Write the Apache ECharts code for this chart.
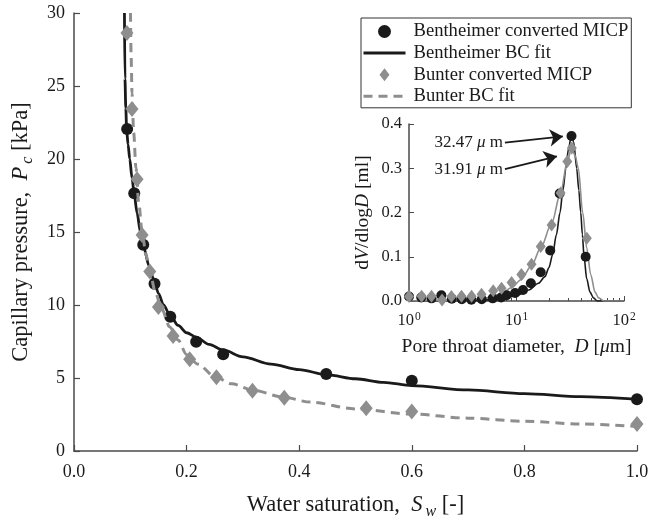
<!DOCTYPE html>
<html>
<head>
<meta charset="utf-8">
<script src="https://cdn.jsdelivr.net/npm/echarts@6/dist/echarts.min.js"></script>
<style>html,body{margin:0;padding:0;background:#fff}#c{width:650px;height:522px}</style>
</head>
<body>
<div id="c"></div>
<script>
// ---------- Main plot data ----------
const benSw = [0.0944, 0.107, 0.123, 0.143, 0.171, 0.217, 0.265, 0.448, 0.600, 1.000];
const benPc = [22.05, 17.66, 14.12, 11.45, 9.2, 7.49, 6.63, 5.28, 4.82, 3.54];
const benFitSw = [0.0896, 0.0905, 0.092, 0.0935, 0.096, 0.099, 0.103, 0.107, 0.112, 0.118, 0.125, 0.133, 0.142, 0.150, 0.159, 0.170, 0.185, 0.20, 0.217, 0.24, 0.265, 0.30, 0.35, 0.40, 0.45, 0.50, 0.55, 0.60, 0.70, 0.80, 0.90, 1.00];
const benFitPc = [30, 25.5, 23.5, 22, 21, 20, 18.7, 17.6, 16.3, 15.0, 13.8, 12.7, 11.7, 10.8, 10.0, 9.35, 8.6, 8.1, 7.8, 7.3, 6.92, 6.45, 5.95, 5.57, 5.22, 4.95, 4.7, 4.48, 4.18, 3.93, 3.72, 3.54];
const bunSw = [0.094, 0.103, 0.112, 0.121, 0.1346, 0.150, 0.176, 0.2055, 0.253, 0.317, 0.3735, 0.519, 0.600, 1.000];
const bunPc = [28.63, 23.42, 18.62, 14.8, 12.29, 9.87, 7.88, 6.28, 5.05, 4.13, 3.65, 2.93, 2.70, 1.85];
const bunFitSw = [0.1003, 0.1015, 0.103, 0.106, 0.110, 0.115, 0.121, 0.128, 0.135, 0.145, 0.155, 0.17, 0.185, 0.20, 0.22, 0.25, 0.28, 0.32, 0.37, 0.42, 0.50, 0.60, 0.70, 0.80, 0.90, 1.00];
const bunFitPc = [30, 27, 24.5, 21.8, 19.4, 17.0, 15.0, 13.4, 12.2, 10.8, 9.8, 8.5, 7.6, 6.6, 5.95, 5.1, 4.6, 4.15, 3.7, 3.35, 2.88, 2.53, 2.25, 2.04, 1.85, 1.68];

// ---------- Inset data ----------
const benD = [1.0, 1.3, 1.62, 2.0, 2.5, 3.1, 3.8, 4.75, 6.0, 7.2, 8.1, 9.7, 11.5, 13.6, 16.8, 20.6, 25.2, 32.47, 44.0];
const benV = [0.010, 0.008, 0.006, 0.013, 0.005, 0.004, 0.003, 0.004, 0.006, 0.008, 0.013, 0.018, 0.025, 0.040, 0.065, 0.114, 0.243, 0.373, 0.100];
const bunD = [1.0, 1.31, 1.62, 2.03, 2.48, 3.08, 3.82, 4.73, 6.07, 7.26, 9.0, 11.1, 13.8, 16.8, 21.2, 25.7, 29.7, 32.7, 45.1];
const bunV = [0.010, 0.011, 0.011, 0.002, 0.010, 0.011, 0.011, 0.015, 0.023, 0.029, 0.042, 0.060, 0.083, 0.123, 0.172, 0.244, 0.315, 0.346, 0.142];
const benFitD = [1, 4, 7, 10, 13, 16, 18.4, 20, 21.7, 23.5, 25.4, 27, 28.8, 30.5, 32.3, 34, 36.3, 38, 39.6, 41, 42.5, 45, 48.3, 52, 56.5, 100];
const benFitV = [0, 0.001, 0.004, 0.012, 0.025, 0.04, 0.055, 0.075, 0.105, 0.15, 0.2, 0.25, 0.3, 0.345, 0.372, 0.36, 0.3, 0.25, 0.2, 0.15, 0.1, 0.05, 0.02, 0.007, 0.0, 0];
const bunFitD = [1, 3, 5, 7, 9, 11, 13.8, 16.8, 21.2, 25.7, 29.7, 32.5, 35, 37.6, 41.3, 45, 49, 53.8, 58, 65, 100];
const bunFitV = [0, 0.002, 0.006, 0.015, 0.03, 0.048, 0.08, 0.12, 0.175, 0.245, 0.315, 0.345, 0.33, 0.3, 0.2, 0.12, 0.06, 0.02, 0.007, 0, 0];

// annotations (data coordinates of the inset)
const peakLabels = ['32.47', '31.91'];
const arrowStart = [[7.8, 0.358], [7.8, 0.298]];
const arrowEnd = [[27.0, 0.372], [23.8, 0.327]];

const legendNames = ['Bentheimer converted MICP', 'Bentheimer BC fit', 'Bunter converted MICP', 'Bunter BC fit'];

const FONT = 'Liberation Serif';
const BLACK = '#1a1a1a';
const GRAY = '#8e8e8e';
const AXIS = '#4a4a4a';
const DIAMOND = 'path://M5,0 L10,6.5 L5,13 L0,6.5 Z';

function zip(a, b) { return a.map((v, i) => [v, b[i]]); }

const chart = echarts.init(document.getElementById('c'), null, {renderer: 'canvas'});

function it(size) { return {fontFamily: FONT, fontStyle: 'italic', fontSize: size, color: '#1a1a1a'}; }
const sub = {fontFamily: FONT, fontStyle: 'italic', fontSize: 16, color: '#1a1a1a', verticalAlign: 'bottom', padding: [14, 0, 0, 3]};

const option = {
  animation: false,
  backgroundColor: '#fff',
  textStyle: {fontFamily: FONT},
  grid: [
    {left: 74, right: 13, top: 13, bottom: 71, containLabel: false, outerBoundsMode: 'none'},
    {left: 409, right: 26, top: 124, bottom: 221, containLabel: false, outerBoundsMode: 'none'}
  ],
  legend: {
    data: [
      {name: legendNames[0]},
      {name: legendNames[1], itemStyle: {opacity: 0}, lineStyle: {width: 3}},
      {name: legendNames[2], icon: DIAMOND},
      {name: legendNames[3], itemStyle: {opacity: 0}, lineStyle: {width: 3}}
    ],
    orient: 'vertical',
    left: 361, top: 18,
    padding: [4, 3, 2, 1],
    itemWidth: 42, itemHeight: 13, itemGap: 2.6,
    symbolKeepAspect: true,
    borderColor: '#333', borderWidth: 1,
    backgroundColor: '#fff',
    textStyle: {fontFamily: FONT, fontSize: 18.6, color: '#1a1a1a', lineHeight: 19, padding: [0, 0, 0, 3]},
    selectedMode: false
  },
  xAxis: [
    {
      gridIndex: 0, type: 'value', min: 0, max: 1, interval: 0.2,
      name: 'Water saturation,  {i|S}{s|w} [-]',
      nameLocation: 'middle', nameGap: 39,
      nameTextStyle: {fontFamily: FONT, fontSize: 22.5, color: '#1a1a1a', rich: {i: it(22.5), s: sub}},
      axisLine: {lineStyle: {color: AXIS, width: 1.5}},
      axisTick: {inside: true, length: 6, lineStyle: {color: AXIS, width: 1.2}},
      axisLabel: {fontFamily: FONT, fontSize: 18, color: '#1a1a1a', margin: 12, formatter: v => v.toFixed(1)},
      splitLine: {show: false}
    },
    {
      gridIndex: 1, type: 'log', logBase: 10, min: 1, max: 100,
      name: 'Pore throat diameter,  {i|D} [{i|μ}m]',
      nameLocation: 'middle', nameGap: 36,
      nameTextStyle: {fontFamily: FONT, fontSize: 19.5, color: '#1a1a1a', rich: {i: it(19.5)}},
      axisLine: {lineStyle: {color: AXIS, width: 1.5}},
      axisTick: {inside: true, length: 5, lineStyle: {color: AXIS, width: 1}},
      minorTick: {show: true, splitNumber: 9, length: 3, lineStyle: {color: AXIS, width: 1}},
      axisLabel: {
        fontFamily: FONT, fontSize: 16.5, color: '#1a1a1a', margin: 10,
        formatter: v => '{b|10}{s|' + Math.round(Math.log10(v)) + '}',
        rich: {
          b: {fontFamily: FONT, fontSize: 16.5, color: '#1a1a1a'},
          s: {fontFamily: FONT, fontSize: 11.5, color: '#1a1a1a', verticalAlign: 'top', padding: [0, 0, 8, 1]}
        }
      },
      splitLine: {show: false}
    }
  ],
  yAxis: [
    {
      gridIndex: 0, type: 'value', min: 0, max: 30, interval: 5,
      name: 'Capillary pressure,  {i|P}{s|c} [kPa]',
      nameLocation: 'middle', nameGap: 38,
      nameTextStyle: {fontFamily: FONT, fontSize: 22.5, color: '#1a1a1a', rich: {i: it(22.5), s: sub}},
      axisLine: {show: true, lineStyle: {color: AXIS, width: 1.5}},
      axisTick: {show: true, inside: true, length: 6, lineStyle: {color: AXIS, width: 1.2}},
      axisLabel: {fontFamily: FONT, fontSize: 18, color: '#1a1a1a', margin: 9},
      splitLine: {show: false}
    },
    {
      gridIndex: 1, type: 'value', min: 0, max: 0.4, interval: 0.1,
      name: 'd{i|V}/dlog{i|D} [ml]',
      nameLocation: 'middle', nameGap: 36,
      nameTextStyle: {fontFamily: FONT, fontSize: 19.5, color: '#1a1a1a', rich: {i: it(19.5)}},
      axisLine: {show: true, lineStyle: {color: AXIS, width: 1.5}},
      axisTick: {show: true, inside: true, length: 5, lineStyle: {color: AXIS, width: 1}},
      axisLabel: {fontFamily: FONT, fontSize: 16.5, color: '#1a1a1a', margin: 7, formatter: v => v.toFixed(1)},
      splitLine: {show: false}
    }
  ],
  series: [
    {
      name: legendNames[0], type: 'scatter', xAxisIndex: 0, yAxisIndex: 0,
      data: zip(benSw, benPc), symbol: 'circle', symbolSize: 12,
      itemStyle: {color: BLACK, opacity: 1}, z: 3
    },
    {
      name: legendNames[1], type: 'line', xAxisIndex: 0, yAxisIndex: 0,
      data: zip(benFitSw, benFitPc), symbol: 'none', smooth: 0.3, smoothMonotone: 'x',
      lineStyle: {color: BLACK, width: 2.8}, itemStyle: {color: BLACK}, clip: true, z: 3
    },
    {
      name: legendNames[2], type: 'scatter', xAxisIndex: 0, yAxisIndex: 0,
      data: zip(bunSw, bunPc), symbol: 'diamond', symbolSize: [13, 16],
      itemStyle: {color: GRAY, opacity: 1}, z: 4
    },
    {
      name: legendNames[3], type: 'line', xAxisIndex: 0, yAxisIndex: 0,
      data: zip(bunFitSw, bunFitPc), symbol: 'none', smooth: 0.3, smoothMonotone: 'x',
      lineStyle: {color: GRAY, width: 3, type: [9, 6]}, itemStyle: {color: GRAY}, clip: true, z: 4
    },
    // inset
    {
      type: 'line', xAxisIndex: 1, yAxisIndex: 1, data: zip(benFitD, benFitV),
      symbol: 'none', smooth: 0.3, smoothMonotone: 'x',
      lineStyle: {color: BLACK, width: 1.6}, z: 3
    },
    {
      type: 'line', xAxisIndex: 1, yAxisIndex: 1, data: zip(bunFitD, bunFitV),
      symbol: 'none', smooth: 0.3, smoothMonotone: 'x',
      lineStyle: {color: GRAY, width: 1.6}, z: 3
    },
    {
      type: 'scatter', xAxisIndex: 1, yAxisIndex: 1, data: zip(benD, benV),
      symbol: 'circle', symbolSize: 10, itemStyle: {color: BLACK, opacity: 1}, z: 4,
      markLine: {
        silent: true, animation: false,
        symbol: ['none', 'arrow'], symbolSize: 13,
        lineStyle: {color: BLACK, width: 1.8, type: 'solid'},
        label: {
          show: true, position: 'start', distance: 2,
          fontFamily: FONT, fontSize: 17, color: '#1a1a1a',
          rich: {i: it(17)}
        },
        data: peakLabels.map((t, k) => [
          {coord: arrowStart[k], label: {formatter: t + ' {i|μ} m'}},
          {coord: arrowEnd[k]}
        ])
      }
    },
    {
      type: 'scatter', xAxisIndex: 1, yAxisIndex: 1, data: zip(bunD, bunV),
      symbol: 'diamond', symbolSize: [10, 13], itemStyle: {color: GRAY, opacity: 1}, z: 5
    }
  ]
};
chart.setOption(option);
</script>
</body>
</html>
